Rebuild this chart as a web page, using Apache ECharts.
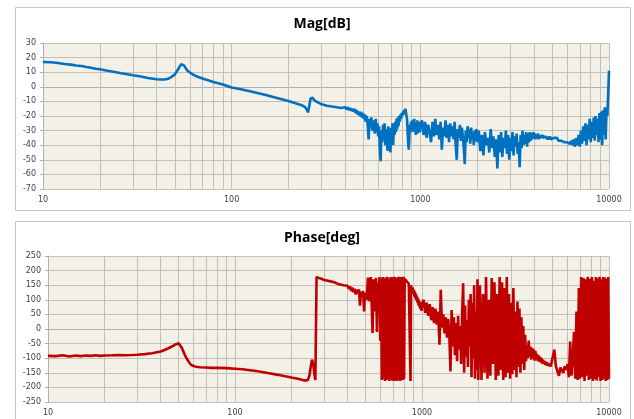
<!DOCTYPE html>
<html><head><meta charset="utf-8">
<script src="https://cdn.jsdelivr.net/npm/echarts@6/dist/echarts.min.js"></script>
<style>html,body{margin:0;padding:0;background:#fff}#c{width:634px;height:419px}</style>
</head><body><div id="c"></div>
<script>
// Frequency [Hz]
const freq = [
 10,11,12,13,14,15,16,17,18,19,20,
 22,24,26,28,30,33,36,40,42,44,46,48,50,
 52,54,56,58,60,62,65,70,75,80,90,100,
 110,120,130,150,170,200,220,235,245,250,254,258,
 262,266,269,271,273,280,290,300,320,340,360,380,
 400,406,412,418,424,430,436,442,448,454,
 460,466,472,478,484,490,496,502,508,514,
 520,526,532,538,544,550,556,562,568,574,
 580,586,592,598,604,610,616,622,628,634,
 640,646,652,658,664,670,676,682,688,694,
 700,706,712,718,724,730,736,742,748,754,
 760,766,772,778,784,790,796,802,808,814,
 820,826,832,838,844,850,856,862,868,874,
 880,886,892,898,904,910,916,922,928,934,
 940,946,952,958,964,970,976,982,988,994,
 1000,
 1020,1040,1060,1080,1100,1120,1140,1160,1180,1200,
 1220,1240,1260,1280,1300,1320,1340,1360,1380,1400,
 1420,1440,1460,1480,1500,1520,1540,1560,1580,1600,
 1620,1640,1660,1680,1700,1720,1740,1760,1780,1800,
 1820,1840,1860,1880,1900,1920,1940,1960,1980,2000,
 2040,2080,2120,2160,2200,2240,2280,2320,2360,2400,
 2440,2480,2520,2560,2600,2640,2680,2720,2760,2800,
 2840,2880,2920,2960,3000,3040,3080,3120,3160,3200,
 3240,3280,3320,3360,3400,3440,3480,3520,3560,3600,
 3640,3680,3720,3760,3800,3840,3880,3920,3960,4000,
 4040,4080,4120,4160,4200,4240,4280,4320,4360,4400,
 4440,4480,4520,4560,4600,4640,4680,4720,4760,4800,
 4840,4880,4920,4960,5000,
 5100,5200,5300,5400,5500,5600,5700,5800,5900,6000,
 6100,6200,6300,6400,6500,6600,6700,6800,6900,7000,
 7100,7200,7300,7400,7500,7600,7700,7800,7900,8000,
 8100,8200,8300,8400,8500,8600,8700,8800,8900,9000,
 9100,9200,9300,9400,9500,9600,9700,9800,9900,10000
];
// Magnitude [dB]
const magDb = [
 17,16.8,16.3,15.6,15.2,14.6,14.2,13.6,13.1,12.4,12,
 11,10.2,9.3,8.6,7.9,7,6,5.2,5,5,5.5,6.8,8.5,
 12,15.5,14.5,11.3,9.8,8.6,7.2,5.7,4.5,3.3,1.6,-0.5,
 -1.5,-2.5,-3.5,-5.5,-7.3,-9.8,-11.5,-12.6,-14,-15.5,-17.5,-13,
 -8,-7,-7.5,-8.5,-9,-10,-11,-12,-13,-13.5,-14,-14.5,
 -14,-15.5,-14,-16,-14.5,-16.5,-15,-17,-15,-18,
 -16,-19,-17,-20,-17,-21,-18,-22,-19,-24,
 -20,-26,-36,-22,-28,-21,-30,-23,-27,-32,
 -22,-31,-25,-34,-27,-42,-51,-30,-38,-26,
 -36,-25,-40,-29,-34,-44,-27,-38,-30,-45,
 -28,-36,-25,-40,-27,-33,-24,-31,-22,-29,
 -21,-27,-20,-24,-19,-22,-18,-20,-17,-19,
 -16,-18,-15,-17,-16,-22,-30,-38,-43,-36,
 -26,-30,-24,-29,-23,-31,-25,-28,-22,-30,
 -24,-33,-25,-30,-23,-32,-26,-29,-24,-31,
 -27,
 -23,-33,-24,-35,-26,-31,-38,-24,-34,-22,
 -33,-26,-36,-24,-43,-28,-34,-23,-35,-26,
 -38,-25,-34,-27,-36,-24,-40,-50,-29,-35,
 -26,-37,-28,-34,-42,-53,-30,-38,-27,-35,
 -29,-39,-28,-36,-31,-40,-30,-37,-29,-38,
 -30,-44,-33,-47,-31,-40,-35,-45,-29,-42,
 -34,-48,-36,-56,-33,-45,-31,-48,-35,-42,
 -30,-46,-33,-50,-35,-44,-31,-47,-34,-41,
 -32,-46,-38,-55,-33,-42,-30,-40,-33,-39,
 -31,-41,-32,-38,-31,-37,-32,-36,-31,-35,
 -32,-36,-33,-35,-32,-36,-33,-35,-34,-36,
 -33,-35,-34,-36,-34,-35,-33,-36,-34,-36,
 -35,-34,-36,-35,-35,
 -35,-36,-35,-37,-36,-37,-36,-38,-37,-38,
 -37,-39,-37,-40,-36,-41,-35,-40,-33,-41,
 -30,-39,-27,-37,-25,-40,-26,-36,-22,-38,
 -24,-35,-21,-37,-20,-33,-22,-38,-18,-36,
 -17,-40,-16,-33,-14,-36,-15,-20,-5,11
];
// Phase [deg]
const phaseDeg = [
 -92,-93,-90,-94,-91,-93,-91,-92,-90,-92,-91,
 -90,-89,-90,-89,-88,-86,-83,-77,-72,-66,-60,-53,-49,
 -65,-90,-108,-122,-127,-129,-131,-132,-133,-133,-134,-136,
 -138,-141,-144,-151,-157,-166,-171,-176,-175,-160,-130,-105,
 -120,-155,-175,-180,178,175,172,168,164,160,153,150,
 148,138,146,130,142,126,138,118,134,122,
 136,80,128,112,130,60,124,100,120,176,
 95,118,178,88,-14,170,98,60,175,-10,
 160,70,178,-40,172,-175,178,-170,176,-178,
 174,-175,179,-172,170,-178,176,-170,178,-176,
 172,-178,179,-174,176,-178,172,-170,179,-176,
 175,-178,178,-172,176,-175,179,-170,172,168,
 166,164,162,160,158,155,152,150,-178,150,
 148,128,142,120,135,112,128,105,120,98,
 112,90,105,82,98,75,92,68,88,62,
 85,
 100,55,90,45,85,30,75,20,70,15,
 60,-54,134,5,50,-15,40,-30,35,-20,
 -145,65,-60,40,-90,20,-110,45,-70,10,
 -120,60,157,-150,80,-95,30,-130,100,-60,
 120,-165,90,-100,150,-170,60,-140,170,-175,
 150,-175,120,-150,178,-170,100,-160,175,-120,
 160,-175,120,-160,178,-140,160,-175,140,-165,
 178,-150,120,-170,90,-155,140,-140,60,-165,
 94,-130,70,-150,40,-120,10,-140,-20,-110,
 -54,-100,-40,-95,-60,-105,-65,-100,-70,-108,
 -75,-105,-85,-110,-90,-112,-95,-115,-100,-118,
 -105,-120,-110,-122,-112,-125,-115,-126,-118,-128,
 -120,-128,-122,-130,-124,
 -71,-128,-130,-160,-132,-135,-150,-128,-140,-120,
 -165,-43,-160,-100,-10,-170,60,-175,140,-170,
 178,-165,175,-178,170,-160,179,-175,172,-170,
 178,-178,165,-172,178,-176,174,-165,179,-178,
 170,-175,178,-170,176,-178,172,-175,178,-170
];
// Log-axis minor grid positions
const minorFreqs = [20,30,40,50,60,70,80,90,200,300,400,500,600,700,800,900,2000,3000,4000,5000,6000,7000,8000,9000];
const magTicks = {min:-70, max:30, step:10};
const phaseTicks = {min:-250, max:250, step:50};

const gridColor = '#c3c0b8';
const labelStyle = {fontSize:8, color:'#404040', fontFamily:'DejaVu Sans'};

function xAx(gi){
  return {type:'log', logBase:10, gridIndex:gi, min:10, max:10000,
    axisLine:{show:true, lineStyle:{color:'#b0b0b0'}},
    axisTick:{show:true, length:3, lineStyle:{color:'#b0b0b0'}},
    axisLabel:Object.assign({margin:7, formatter:v=>String(Math.round(v))}, labelStyle),
    splitLine:{show:true, lineStyle:{color:gridColor, width:1}}};
}
function yAx(gi, t){
  return {type:'value', gridIndex:gi, min:t.min, max:t.max, interval:t.step,
    axisLine:{show:true, lineStyle:{color:'#b0b0b0'}},
    axisTick:{show:true, length:3, lineStyle:{color:'#b0b0b0'}},
    axisLabel:Object.assign({margin:7}, labelStyle),
    splitLine:{show:true, lineStyle:{color:gridColor, width:1}}};
}
function minorSeries(gi){
  return {type:'line', xAxisIndex:gi, yAxisIndex:gi, data:[], silent:true, z:1,
    markLine:{silent:true, symbol:'none', z:1, animation:false,
      label:{show:false}, lineStyle:{color:gridColor, width:1, type:'solid'},
      data:minorFreqs.map(f=>({xAxis:f}))}};
}

const chart = echarts.init(document.getElementById('c'), null, {renderer:'canvas'});
chart.setOption({
  animation:false,
  backgroundColor:'#ffffff',
  grid:[
    {left:43, top:43, width:566, height:146, show:true, backgroundColor:'#f3f0e7', borderWidth:0},
    {left:48, top:256, width:561, height:146, show:true, backgroundColor:'#f3f0e7', borderWidth:0}
  ],
  xAxis:[xAx(0), xAx(1)],
  yAxis:[yAx(0, magTicks), yAx(1, phaseTicks)],
  graphic:[
    {type:'rect', shape:{x:15.5, y:7.5, width:615, height:203}, style:{fill:'none', stroke:'#c8c8c8', lineWidth:1}, silent:true},
    {type:'rect', shape:{x:15.5, y:221.5, width:615, height:210}, style:{fill:'none', stroke:'#c8c8c8', lineWidth:1}, silent:true},
    {type:'text', x:322, y:24, style:{text:'Mag[dB]', font:'bold 14px "Open Sans"', fill:'#000', textAlign:'center', textVerticalAlign:'middle'}},
    {type:'text', x:322, y:238, style:{text:'Phase[deg]', font:'bold 14px "Open Sans"', fill:'#000', textAlign:'center', textVerticalAlign:'middle'}}
  ],
  series:[
    minorSeries(0), minorSeries(1),
    {type:'line', name:'Mag', xAxisIndex:0, yAxisIndex:0, z:3, showSymbol:false, symbol:'none',
     lineStyle:{color:'#0070c0', width:2.6}, itemStyle:{color:'#0070c0'},
     data:freq.map((f,i)=>[f, magDb[i]])},
    {type:'line', name:'Phase', xAxisIndex:1, yAxisIndex:1, z:3, showSymbol:false, symbol:'none',
     lineStyle:{color:'#c00000', width:2.6}, itemStyle:{color:'#c00000'},
     data:freq.map((f,i)=>[f, phaseDeg[i]])}
  ]
});
</script></body></html>
